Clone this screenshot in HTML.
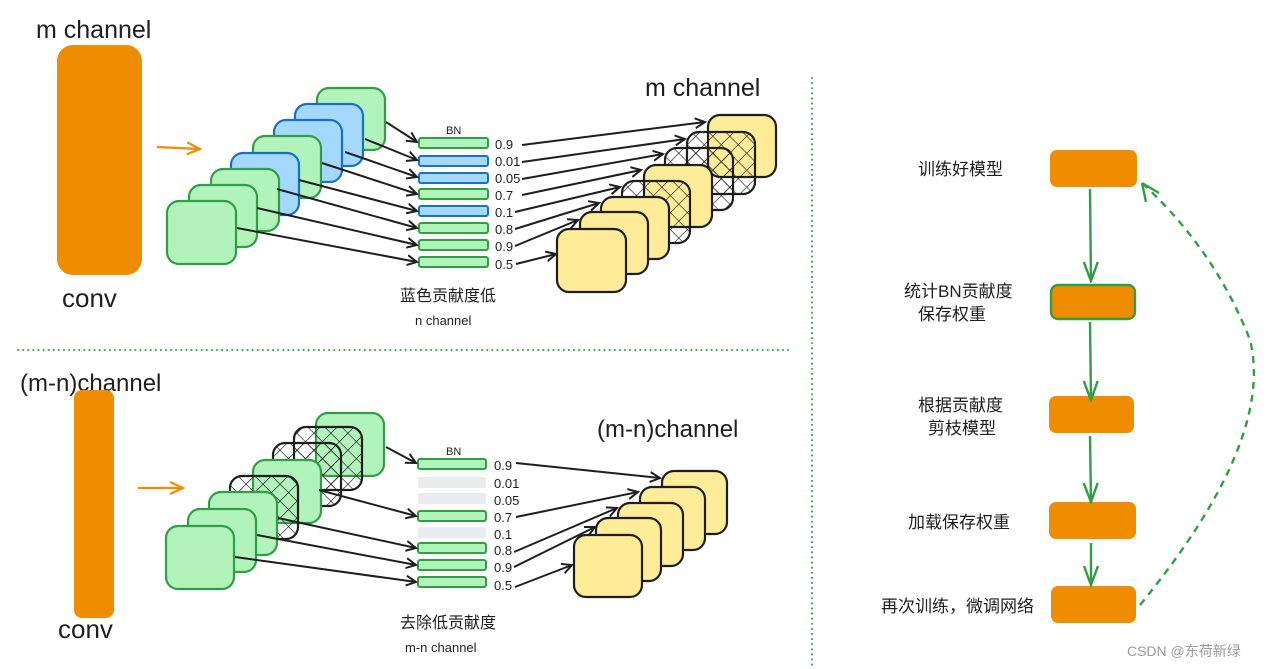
<!DOCTYPE html>
<html><head><meta charset="utf-8"><style>
html,body{margin:0;padding:0;background:#fff;}
svg{display:block;}
text{font-family:"Liberation Sans","Noto Sans CJK SC",sans-serif;}
</style></head><body>
<svg width="1277" height="669" viewBox="0 0 1277 669" xmlns="http://www.w3.org/2000/svg">
<defs>
<pattern id="h" width="12" height="12" patternUnits="userSpaceOnUse" patternTransform="rotate(45)">
<path d="M0 0V12M0 0H12" stroke="#1e1e1e" stroke-width="1.3" fill="none"/>
</pattern>
<marker id="a" markerWidth="12" markerHeight="12" refX="10" refY="6" orient="auto" markerUnits="userSpaceOnUse">
<path d="M0 1L10 6L0 11" fill="none" stroke="#1e1e1e" stroke-width="2"/>
</marker>
<marker id="g" markerWidth="22" markerHeight="18" refX="20" refY="9" orient="auto" markerUnits="userSpaceOnUse">
<path d="M1 2L20 9L1 16" fill="none" stroke="#2f9e44" stroke-width="2.4"/>
</marker>
<marker id="o" markerWidth="16" markerHeight="14" refX="14" refY="7" orient="auto" markerUnits="userSpaceOnUse">
<path d="M1 1L14 7L1 13" fill="none" stroke="#f08c00" stroke-width="2.2"/>
</marker>
</defs>

<text x="36" y="38" font-size="25" fill="#1e1e1e">m channel</text>
<rect x="57" y="45" width="85" height="230" rx="16" fill="#f08c00"/>
<text x="62" y="307" font-size="26" fill="#1e1e1e">conv</text>
<line x1="157" y1="147" x2="200" y2="149" stroke="#f08c00" stroke-width="2.2" marker-end="url(#o)"/>

<g stroke-width="2.2">
<rect x="317" y="88" width="68" height="62" rx="12" fill="#b2f2bb" stroke="#2f9e44"/>
<rect x="295" y="104" width="68" height="62" rx="12" fill="#a5d8ff" stroke="#1971c2"/>
<rect x="274" y="120" width="68" height="62" rx="12" fill="#a5d8ff" stroke="#1971c2"/>
<rect x="253" y="136" width="68" height="62" rx="12" fill="#b2f2bb" stroke="#2f9e44"/>
<rect x="231" y="153" width="68" height="62" rx="12" fill="#a5d8ff" stroke="#1971c2"/>
<rect x="211" y="169" width="68" height="62" rx="12" fill="#b2f2bb" stroke="#2f9e44"/>
<rect x="189" y="185" width="68" height="62" rx="12" fill="#b2f2bb" stroke="#2f9e44"/>
<rect x="167" y="201" width="69" height="63" rx="12" fill="#b2f2bb" stroke="#2f9e44"/>
</g>
<text x="446" y="134" font-size="11" fill="#1e1e1e">BN</text>
<g stroke-width="2">
<rect x="419" y="138" width="69" height="10" rx="2" fill="#b2f2bb" stroke="#2f9e44"/>
<rect x="419" y="156" width="69" height="10" rx="2" fill="#a5d8ff" stroke="#1971c2"/>
<rect x="419" y="173" width="69" height="10" rx="2" fill="#a5d8ff" stroke="#1971c2"/>
<rect x="419" y="189" width="69" height="10" rx="2" fill="#b2f2bb" stroke="#2f9e44"/>
<rect x="419" y="206" width="69" height="10" rx="2" fill="#a5d8ff" stroke="#1971c2"/>
<rect x="419" y="223" width="69" height="10" rx="2" fill="#b2f2bb" stroke="#2f9e44"/>
<rect x="419" y="240" width="69" height="10" rx="2" fill="#b2f2bb" stroke="#2f9e44"/>
<rect x="419" y="257" width="69" height="10" rx="2" fill="#b2f2bb" stroke="#2f9e44"/>
</g>
<g font-size="13" fill="#1e1e1e">
<text x="495" y="149">0.9</text><text x="495" y="166">0.01</text><text x="495" y="183">0.05</text><text x="495" y="200">0.7</text>
<text x="495" y="217">0.1</text><text x="495" y="234">0.8</text><text x="495" y="251">0.9</text><text x="495" y="269">0.5</text>
</g>
<g stroke="#1e1e1e" stroke-width="2" marker-end="url(#a)">
<line x1="386" y1="122" x2="417" y2="142"/>
<line x1="365" y1="139" x2="417" y2="160"/>
<line x1="345" y1="152" x2="417" y2="177"/>
<line x1="322" y1="163" x2="417" y2="194"/>
<line x1="299" y1="180" x2="417" y2="211"/>
<line x1="277" y1="189" x2="417" y2="228"/>
<line x1="257" y1="208" x2="417" y2="245"/>
<line x1="237" y1="228" x2="417" y2="262"/>
</g>

<g stroke="#1e1e1e" stroke-width="2.2">
<rect x="708" y="115" width="68" height="62" rx="12" fill="#ffec99"/>
<rect x="687" y="132" width="68" height="62" rx="12" fill="url(#h)"/>
<rect x="665" y="148" width="68" height="62" rx="12" fill="url(#h)"/>
<rect x="644" y="165" width="68" height="62" rx="12" fill="#ffec99"/>
<rect x="622" y="181" width="68" height="62" rx="12" fill="url(#h)"/>
<rect x="601" y="197" width="68" height="62" rx="12" fill="#ffec99"/>
<rect x="580" y="212" width="68" height="62" rx="12" fill="#ffec99"/>
<rect x="557" y="229" width="69" height="63" rx="12" fill="#ffec99"/>
</g>
<g stroke="#1e1e1e" stroke-width="2" marker-end="url(#a)">
<line x1="522" y1="145" x2="705" y2="122"/>
<line x1="522" y1="162" x2="685" y2="139"/>
<line x1="522" y1="179" x2="663" y2="154"/>
<line x1="522" y1="195" x2="641" y2="170"/>
<line x1="515" y1="212" x2="620" y2="187"/>
<line x1="515" y1="229" x2="599" y2="203"/>
<line x1="515" y1="246" x2="578" y2="220"/>
<line x1="516" y1="264" x2="556" y2="254"/>
</g>
<text x="645" y="96" font-size="25" fill="#1e1e1e">m channel</text>
<text x="400" y="301" font-size="16" fill="#1e1e1e">蓝色贡献度低</text>
<text x="415" y="325" font-size="13" fill="#1e1e1e">n channel</text>

<line x1="18" y1="350" x2="792" y2="350" stroke="#2f9e44" stroke-width="2" stroke-dasharray="0.1 5" stroke-linecap="round"/>
<line x1="812" y1="78" x2="812" y2="666" stroke="#2f9e44" stroke-width="2" stroke-dasharray="0.1 5" stroke-linecap="round"/>

<text x="20" y="391" font-size="24" fill="#1e1e1e">(m-n)channel</text>
<rect x="74" y="390" width="40" height="228" rx="8" fill="#f08c00"/>
<text x="58" y="638" font-size="26" fill="#1e1e1e">conv</text>
<line x1="138" y1="488" x2="183" y2="488" stroke="#f08c00" stroke-width="2.2" marker-end="url(#o)"/>

<g stroke-width="2.2">
<rect x="316" y="413" width="68" height="63" rx="12" fill="#b2f2bb" stroke="#2f9e44"/>
<rect x="294" y="427" width="68" height="63" rx="12" fill="url(#h)" stroke="#1e1e1e"/>
<rect x="273" y="443" width="68" height="63" rx="12" fill="url(#h)" stroke="#1e1e1e"/>
<rect x="253" y="460" width="68" height="63" rx="12" fill="#b2f2bb" stroke="#2f9e44"/>
<rect x="230" y="476" width="68" height="63" rx="12" fill="url(#h)" stroke="#1e1e1e"/>
<rect x="209" y="492" width="68" height="63" rx="12" fill="#b2f2bb" stroke="#2f9e44"/>
<rect x="188" y="509" width="68" height="63" rx="12" fill="#b2f2bb" stroke="#2f9e44"/>
<rect x="166" y="526" width="68" height="63" rx="12" fill="#b2f2bb" stroke="#2f9e44"/>
</g>
<text x="446" y="455" font-size="11" fill="#1e1e1e">BN</text>
<g stroke-width="2">
<rect x="418" y="459" width="68" height="10" rx="2" fill="#b2f2bb" stroke="#2f9e44"/>
<rect x="418" y="477" width="68" height="11" rx="2" fill="#e9ecef"/>
<rect x="418" y="493" width="68" height="11" rx="2" fill="#e9ecef"/>
<rect x="418" y="511" width="68" height="10" rx="2" fill="#b2f2bb" stroke="#2f9e44"/>
<rect x="418" y="527" width="68" height="11" rx="2" fill="#e9ecef"/>
<rect x="418" y="543" width="68" height="10" rx="2" fill="#b2f2bb" stroke="#2f9e44"/>
<rect x="418" y="560" width="68" height="10" rx="2" fill="#b2f2bb" stroke="#2f9e44"/>
<rect x="418" y="577" width="68" height="10" rx="2" fill="#b2f2bb" stroke="#2f9e44"/>
</g>
<g font-size="13" fill="#1e1e1e">
<text x="494" y="470">0.9</text><text x="494" y="488">0.01</text><text x="494" y="505">0.05</text><text x="494" y="522">0.7</text>
<text x="494" y="539">0.1</text><text x="494" y="555">0.8</text><text x="494" y="572">0.9</text><text x="494" y="590">0.5</text>
</g>
<g stroke="#1e1e1e" stroke-width="2" marker-end="url(#a)">
<line x1="386" y1="447" x2="416" y2="463"/>
<line x1="319" y1="490" x2="416" y2="516"/>
<line x1="278" y1="518" x2="416" y2="548"/>
<line x1="257" y1="535" x2="416" y2="565"/>
<line x1="235" y1="557" x2="416" y2="582"/>
</g>
<g stroke="#1e1e1e" stroke-width="2.2" fill="#ffec99">
<rect x="662" y="471" width="65" height="63" rx="12"/>
<rect x="640" y="487" width="65" height="63" rx="12"/>
<rect x="618" y="503" width="65" height="63" rx="12"/>
<rect x="596" y="518" width="65" height="63" rx="12"/>
<rect x="574" y="535" width="68" height="62" rx="12"/>
</g>
<g stroke="#1e1e1e" stroke-width="2" marker-end="url(#a)">
<line x1="516" y1="463" x2="660" y2="478"/>
<line x1="516" y1="517" x2="638" y2="492"/>
<line x1="514" y1="552" x2="617" y2="508"/>
<line x1="514" y1="567" x2="595" y2="527"/>
<line x1="515" y1="587" x2="572" y2="565"/>
</g>
<text x="597" y="437" font-size="24" fill="#1e1e1e">(m-n)channel</text>
<text x="400" y="628" font-size="16" fill="#1e1e1e">去除低贡献度</text>
<text x="405" y="652" font-size="13" fill="#1e1e1e">m-n channel</text>

<g fill="#f08c00">
<rect x="1050" y="150" width="87" height="37" rx="7"/>
<rect x="1051" y="285" width="84" height="34" rx="7" stroke="#2f9e44" stroke-width="2.4"/>
<rect x="1049" y="396" width="85" height="37" rx="7"/>
<rect x="1049" y="502" width="87" height="37" rx="7"/>
<rect x="1051" y="586" width="85" height="37" rx="7"/>
</g>
<g stroke="#2f9e44" stroke-width="2.4" fill="none">
<line x1="1090" y1="189" x2="1091" y2="281" marker-end="url(#g)"/>
<line x1="1090" y1="322" x2="1091" y2="400" marker-end="url(#g)"/>
<line x1="1090" y1="436" x2="1091" y2="502" marker-end="url(#g)"/>
<line x1="1091" y1="543" x2="1091" y2="585" marker-end="url(#g)"/>
<path d="M1140 605 Q1275 440 1250 340 Q1215 250 1142 183" stroke-dasharray="7 6"/>
<path d="M1142 183 L1146 202 M1142 183 L1159 193"/>
</g>
<g font-size="17" fill="#1e1e1e">
<text x="918" y="175">训练好模型</text>
<text x="904" y="297">统计BN贡献度</text>
<text x="918" y="320">保存权重</text>
<text x="918" y="411">根据贡献度</text>
<text x="928" y="434">剪枝模型</text>
<text x="908" y="528">加载保存权重</text>
<text x="881" y="612">再次训练，微调网络</text>
</g>
<text x="1127" y="656" font-size="14" fill="#999">CSDN @东荷新绿</text>
</svg>
</body></html>
